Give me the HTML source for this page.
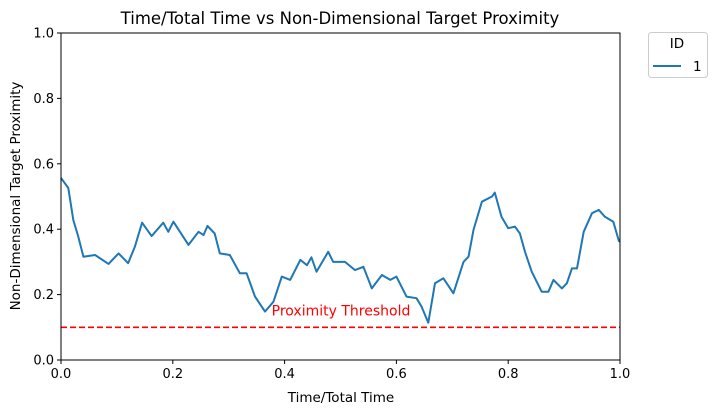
<!DOCTYPE html>
<html><head><meta charset="utf-8"><style>
body{margin:0;background:#fff;}
svg{font-family:"DejaVu Sans","Liberation Sans",sans-serif;}
</style></head><body>
<svg id="chart" width="716" height="414">
<text x="340" y="24" text-anchor="middle" font-size="16.5">Time/Total Time vs Non-Dimensional Target Proximity</text>
<g id="axes"></g>
<text x="341" y="402" text-anchor="middle" font-size="13.5">Time/Total Time</text>
<text transform="translate(20,196) rotate(-90)" text-anchor="middle" font-size="13.5">Non-Dimensional Target Proximity</text>
<g>
<rect x="648.5" y="32.5" width="59" height="45" rx="3" fill="#fff" stroke="#ccc"/>
<text x="677" y="48" text-anchor="middle" font-size="13.5">ID</text>
<line x1="653" y1="66" x2="681" y2="66" stroke="#1f77b4" stroke-width="2"/>
<text x="693" y="71" font-size="13.5">1</text>
</g>
</svg>
<script>
const times=[0,0.013,0.022,0.031,0.04,0.061,0.085,0.103,0.12,0.132,0.145,0.162,0.183,0.192,0.201,0.228,0.246,0.255,0.262,0.275,0.284,0.302,0.32,0.332,0.347,0.365,0.38,0.395,0.41,0.428,0.44,0.448,0.457,0.478,0.487,0.508,0.526,0.541,0.556,0.574,0.589,0.6,0.618,0.636,0.645,0.657,0.669,0.684,0.702,0.72,0.729,0.738,0.753,0.771,0.776,0.788,0.8,0.812,0.821,0.83,0.842,0.86,0.872,0.881,0.896,0.905,0.914,0.923,0.935,0.95,0.962,0.973,0.988,0.998,1.0];
const proximity=[0.557,0.526,0.428,0.377,0.316,0.321,0.294,0.326,0.296,0.346,0.42,0.379,0.42,0.392,0.423,0.352,0.392,0.382,0.41,0.387,0.326,0.321,0.265,0.265,0.194,0.148,0.178,0.255,0.245,0.306,0.29,0.314,0.27,0.331,0.3,0.3,0.275,0.285,0.219,0.26,0.245,0.255,0.194,0.189,0.163,0.114,0.235,0.25,0.204,0.3,0.316,0.398,0.484,0.5,0.512,0.438,0.403,0.408,0.387,0.331,0.27,0.209,0.209,0.245,0.219,0.235,0.28,0.28,0.392,0.449,0.459,0.438,0.423,0.364,0.362];
const xTicks=[0,0.2,0.4,0.6,0.8,1.0];
const yTicks=[0,0.2,0.4,0.6,0.8,1.0];
const threshold=[0.1];
const X0=61,X1=620,Y0=360,Y1=33;
const xs=v=>X0+v*(X1-X0);
const ys=v=>Y0-v*(Y0-Y1);
const NS="http://www.w3.org/2000/svg";
const g=document.getElementById('axes');
function mk(t,a){const e=document.createElementNS(NS,t);for(const k in a)e.setAttribute(k,a[k]);g.appendChild(e);return e;}
xTicks.forEach(v=>{
 const l=mk('line',{x1:xs(v),x2:xs(v),y1:Y0,y2:Y0+4,stroke:'#000'});
 
 
 const t=mk('text',{x:xs(v),y:Y0+18,'text-anchor':'middle','font-size':13});
 t.textContent=v.toFixed(1);
 
 
});
yTicks.forEach(v=>{
 const l=mk('line',{x1:X0-4,x2:X0,y1:ys(v),y2:ys(v),stroke:'#000'});
 
 
 const t=mk('text',{x:X0-7,y:ys(v)+4.5,'text-anchor':'end','font-size':13});
 t.textContent=v.toFixed(1);
 
 
});
const pts=times.map((t,i)=>xs(t).toFixed(1)+','+ys(proximity[i]).toFixed(1)).join(' ');
const line=mk('polyline',{points:pts,fill:'none',stroke:'#1f77b4','stroke-width':2,'stroke-linejoin':'round'});


const th=mk('line',{x1:X0,x2:X1,y1:ys(threshold[0]),y2:ys(threshold[0]),stroke:'#ff0000','stroke-width':1.6,'stroke-dasharray':'6,3'});


const tl=mk('text',{x:341,y:ys(threshold[0])-12,'text-anchor':'middle','font-size':14,fill:'#ff0000'});
tl.textContent='Proximity Threshold';


const fr=mk('rect',{x:X0,y:Y1,width:X1-X0,height:Y0-Y1,fill:'none',stroke:'#000'});


</script>
</body></html>
